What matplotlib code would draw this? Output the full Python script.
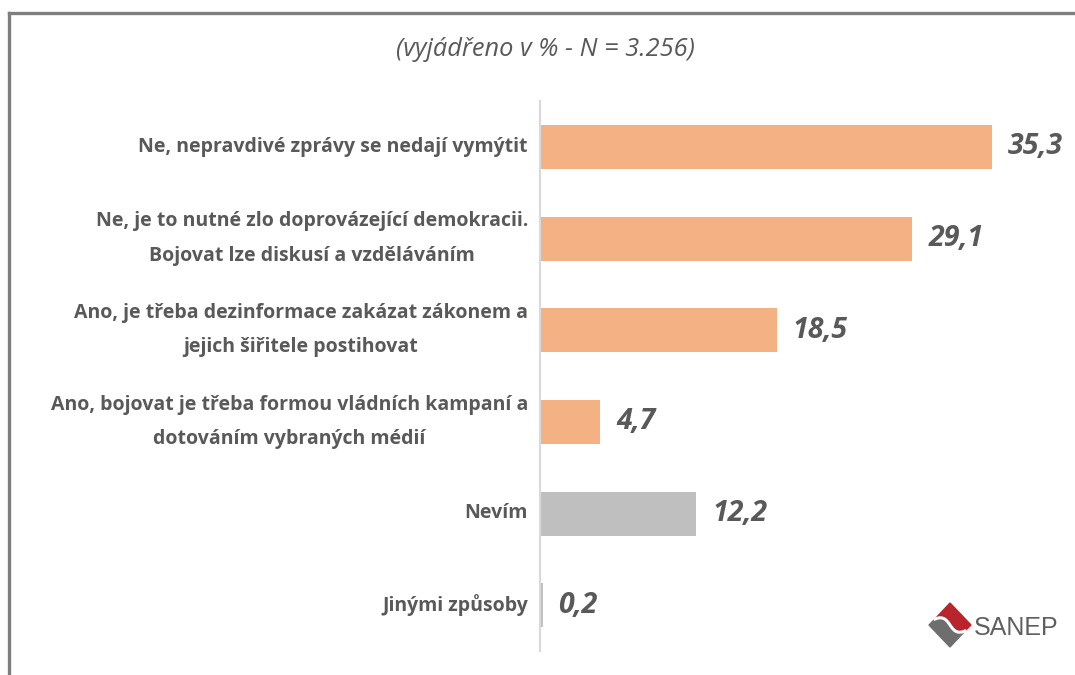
import matplotlib
matplotlib.use("Agg")
import matplotlib.pyplot as plt
from matplotlib.patches import Polygon
from matplotlib.lines import Line2D
import numpy as np

categories = [
    "Ne, nepravdivé zprávy se nedají vymýtit",
    "Ne, je to nutné zlo doprovázející demokracii.\nBojovat lze diskusí a vzděláváním",
    "Ano, je třeba dezinformace zakázat zákonem a\njejich šiřitele postihovat",
    "Ano, bojovat je třeba formou vládních kampaní a\ndotováním vybraných médií",
    "Nevím",
    "Jinými způsoby",
]
values = [35.3, 29.1, 18.5, 4.7, 12.2, 0.2]
value_labels = ["35,3", "29,1", "18,5", "4,7", "12,2", "0,2"]
bar_colors = ["#F4B183", "#F4B183", "#F4B183", "#F4B183", "#BFBFBF", "#BFBFBF"]
title = "(vyjádřeno v % - N = 3.256)"

W, H = 1075, 675
fig = plt.figure(figsize=(W / 100, H / 100), dpi=100)
fig.patch.set_facecolor("white")

def px(x, y):
    return (x / W, 1 - y / H)

ax = fig.add_axes([540 / W, 1 - 651 / H, 512 / W, 550 / H])
y = np.arange(len(categories))
ax.barh(y, values, height=0.48, color=bar_colors)
ax.set_ylim(len(categories) - 0.5, -0.5)
ax.set_xlim(0, 40)
for s in ["top", "right", "bottom"]:
    ax.spines[s].set_visible(False)
ax.spines["left"].set_color("#D9D9D9")
ax.spines["left"].set_linewidth(1.5)
ax.set_xticks([])
ax.set_yticks(y)
ax.set_yticklabels([""] * len(categories))
ax.tick_params(axis="y", length=0)

for yi, cat in zip(y, categories):
    ax.annotate(cat, xy=(0, yi), xytext=(-12, 0), textcoords="offset pixels",
                ha="right", va="center", multialignment="center",
                fontsize=14, fontweight="bold", color="#595959",
                family="Open Sans", linespacing=1.95)

for yi, v, lab in zip(y, values, value_labels):
    ax.annotate(lab, xy=(v, yi), xytext=(16, 0), textcoords="offset pixels",
                ha="left", va="center", fontsize=20.5, fontweight="bold",
                fontstyle="italic", color="#595959", family="Open Sans")

fig.text(*px(545, 50), title, ha="center", va="center", fontsize=18.3,
         fontstyle="italic", color="#595959", family="Open Sans")

# frame
fig.add_artist(Line2D([8.5 / W, 8.5 / W], [0, 1 - 12.5 / H], color="#7F7F7F", lw=2.4,
                      transform=fig.transFigure, solid_capstyle="projecting"))
fig.add_artist(Line2D([8.5 / W, 1], [1 - 12.5 / H, 1 - 12.5 / H], color="#7F7F7F", lw=2.4,
                      transform=fig.transFigure, solid_capstyle="projecting"))

# logo
cx, cy, rx, ry = 950, 625, 21, 22
P0 = (cx - 15, cy - 6)
P3 = (cx + 15, cy + 6)
C1 = (cx + 2, cy - 13)
C2 = (cx - 2, cy + 13)
t = np.linspace(0, 1, 30)
curve = [((1 - s) ** 3 * P0[0] + 3 * (1 - s) ** 2 * s * C1[0] + 3 * (1 - s) * s ** 2 * C2[0] + s ** 3 * P3[0],
          (1 - s) ** 3 * P0[1] + 3 * (1 - s) ** 2 * s * C1[1] + 3 * (1 - s) * s ** 2 * C2[1] + s ** 3 * P3[1])
         for s in t]
red = [P0, (cx, cy - ry), (cx + rx, cy), P3] + curve[::-1]
grey = curve + [P3, (cx, cy + ry), (cx - rx, cy)]
fig.add_artist(Polygon([px(*p) for p in red], closed=True, color="#B8252C",
                       transform=fig.transFigure))
fig.add_artist(Polygon([px(*p) for p in grey], closed=True, color="#6E6E6E",
                       transform=fig.transFigure))
fig.add_artist(Line2D([px(*p)[0] for p in curve], [px(*p)[1] for p in curve],
                      color="white", lw=2.2, transform=fig.transFigure))
fig.text(*px(974, 628), "SANEP", ha="left", va="center", fontsize=18,
         color="#5F5F5F", family="Liberation Sans")

fig.savefig("out.png", dpi=100)
